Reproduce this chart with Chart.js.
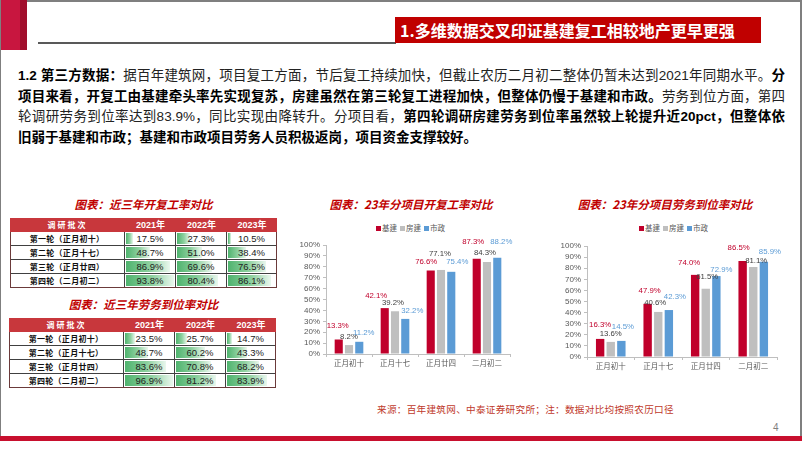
<!DOCTYPE html>
<html>
<head>
<meta charset="utf-8">
<script src="https://cdn.jsdelivr.net/npm/chart.js@4.4.0/dist/chart.umd.min.js"></script>
<style>
  body { margin: 0; background: #fff; }
  #page { position: relative; width: 802px; height: 451px; overflow: hidden; background: #fff;
          font-family: "Liberation Sans", "Noto Sans CJK SC", sans-serif; }
  .abs { position: absolute; }
  .para { left: 18px; top: 66px; width: 767px; font-size: 13.5px; line-height: 20.5px; color: #222; }
  .para div { text-align: justify; text-align-last: justify; white-space: nowrap; }
  .para div.last { text-align-last: left; }
  .para b { color: #000; }
  .ctitle { font-size: 11.5px; font-weight: bold; font-style: italic; color: #c00000; text-align: center;
            line-height: 16px; font-family: "Noto Sans CJK SC", sans-serif; }
  .legend { font-size: 7.5px; color: #595959; line-height: 10px; text-align: center; font-family: "Noto Sans CJK SC", sans-serif; }
  .legend span.sw { display: inline-block; width: 5px; height: 5px; margin: 0 1px 0 3px; vertical-align: 0; }
  .cell { position: absolute; box-sizing: border-box; overflow: hidden; }
  .hdr { background: #c8373c; color: #fff; font-weight: bold; text-align: center; }
  .lbl { font-family: "Noto Sans CJK SC", sans-serif; font-weight: bold; font-size: 8px; letter-spacing: 0.3px;
         text-align: center; color: #111; }
  .val { font-size: 9.5px; text-align: center; color: #222; }
  .bar { position: absolute; left: 1px; top: 1px; bottom: 1px;
         background: linear-gradient(to right, #4fb36e 0%, #8fd1a0 55%, #eaf7ee 100%); }
  .val span { position: relative; }
</style>
</head>
<body>
<div id="page">
  <!-- frame -->
  <div class="abs" style="left:0;top:0;width:802px;height:2px;background:#7f7f7f"></div>
  <div class="abs" style="left:0;top:0;width:1px;height:436px;background:#7f7f7f"></div>
  <div class="abs" style="left:800px;top:0;width:2px;height:436px;background:#7f7f7f"></div>
  <div class="abs" style="left:1px;top:0;width:26px;height:50px;background:linear-gradient(to right,#c8163f 0,#c8163f 72%,#a10e2c 74%,#a10e2c 100%)"></div>
  <div class="abs" style="left:38px;top:42px;width:358px;height:2px;background:#595959"></div>
  <div class="abs" style="left:395px;top:17px;width:366px;height:26px;background:#c00000;color:#fff;font-weight:bold;font-size:16px;line-height:26px;padding-left:5px;box-sizing:border-box;font-family:'Noto Sans CJK SC',sans-serif">1.多维数据交叉印证基建复工相较地产更早更强</div>

  <!-- paragraph -->
  <div class="abs para">
    <div><b>1.2 第三方数据：</b>据百年建筑网，项目复工方面，节后复工持续加快，但截止农历二月初二整体仍暂未达到2021年同期水平。<b>分</b></div>
    <div><b>项目来看，开复工由基建牵头率先实现复苏，房建虽然在第三轮复工进程加快，但整体仍慢于基建和市政。</b>劳务到位方面，第四</div>
    <div>轮调研劳务到位率达到83.9%，同比实现由降转升。分项目看，<b>第四轮调研房建劳务到位率虽然较上轮提升近20pct，但整体依</b></div>
    <div class="last"><b>旧弱于基建和市政；基建和市政项目劳务人员积极返岗，项目资金支撑较好。</b></div>
  </div>

  <!-- table titles -->
  <div class="abs ctitle" style="left:10px;top:196px;width:267px">图表：近三年开复工率对比</div>
  <div class="abs ctitle" style="left:10px;top:296px;width:267px">图表：近三年劳务到位率对比</div>
  <div id="table1" class="abs" style="left:10px;top:218px"></div>
  <div id="table2" class="abs" style="left:9px;top:318px"></div>

  <!-- chart titles and legends -->
  <div class="abs ctitle" style="left:311px;top:196px;width:200px">图表：23年分项目开复工率对比</div>
  <div class="abs ctitle" style="left:565px;top:196px;width:200px">图表：23年分项目劳务到位率对比</div>
  <div id="legend1" class="abs legend" style="left:359px;top:223px;width:100px"></div>
  <div id="legend2" class="abs legend" style="left:622px;top:223px;width:100px"></div>

  <div class="abs" style="left:294px;top:235px"><canvas id="chart1" width="224" height="135"></canvas></div>
  <div class="abs" style="left:555px;top:236px"><canvas id="chart2" width="230" height="137"></canvas></div>

  <div class="abs" style="left:377px;top:402px;font-size:9.6px;letter-spacing:0.3px;color:#c0392b;font-family:'Noto Sans CJK SC',sans-serif;line-height:14px">来源：百年建筑网、中泰证券研究所；注：数据对比均按照农历口径</div>
  <div class="abs" style="left:773px;top:422px;font-size:10px;color:#7f7f7f">4</div>
  <div class="abs" style="left:0;top:436px;width:802px;height:5px;background:#c8102e"></div>
</div>

<script>
// table data
const tableRounds = ['第一轮（正月初十）', '第二轮（正月十七）', '第三轮（正月廿四）', '第四轮（二月初二）'];
const tableYears = ['2021年', '2022年', '2023年'];
const restart2021 = [17.5, 48.7, 86.9, 93.8];
const restart2022 = [27.3, 51.0, 69.6, 80.4];
const restart2023 = [10.5, 38.4, 76.5, 86.1];
const labor2021 = [23.5, 48.7, 83.6, 96.9];
const labor2022 = [25.7, 60.2, 70.8, 81.2];
const labor2023 = [14.7, 43.3, 68.2, 83.9];

// chart data
const chartDays = ['正月初十', '正月十七', '正月廿四', '二月初二'];
const seriesNames = ['基建', '房建', '市政'];
const restart23Infra = [13.3, 42.1, 76.6, 87.3];
const restart23Housing = [8.2, 39.2, 77.1, 84.3];
const restart23Municipal = [11.2, 32.2, 75.4, 88.2];
const labor23Infra = [16.3, 47.9, 74.0, 86.5];
const labor23Housing = [13.6, 40.6, 61.5, 81.1];
const labor23Municipal = [14.5, 42.3, 72.9, 85.9];

const seriesColors = ['#c0002b', '#bfbfbf', '#5b9bd5'];
const labelColors = ['#c0002b', '#404040', '#5b9bd5'];

// label nudges (dx, dy from the bar top), per series and per category, like the hand-placed excel labels
const nudge1 = [
    [[-1, -13.5], [-8.5, -12], [-4.5, -8.5], [-3.5, -16.5]],
    [[0, -8], [-2, -8.5], [-1, -16.5], [-2, -9]],
    [[4.5, -9], [7, -8], [6, -10], [4, -16.5]]
];
const nudge2 = [
    [[0, -14], [2, -13], [-6, -12], [-4, -13]],
    [[0, -8], [-3, -9], [1.5, -11.5], [3, -6.5]],
    [[1.5, -14], [6, -13], [5, -6.5], [6, -10]]
];

// build a table with data bars
function buildTable(id, columns) {
    const host = document.getElementById(id);
    const colW = [115, 51, 51, 50];
    const rowH = 14;
    const max = Math.max(...columns.flat());
    const totalW = colW.reduce((a, b) => a + b, 0);
    const totalH = rowH * (tableRounds.length + 1);
    host.style.width = totalW + 'px';
    host.style.height = totalH + 'px';

    const add = (x, y, w, h, cls, html, style) => {
        const d = document.createElement('div');
        d.className = 'cell ' + cls;
        d.style.left = x + 'px';
        d.style.top = y + 'px';
        d.style.width = w + 'px';
        d.style.height = h + 'px';
        d.style.lineHeight = h + 'px';
        if (style) d.style.cssText += style;
        d.innerHTML = html;
        host.appendChild(d);
        return d;
    };

    add(0, 0, totalW, rowH, 'hdr', '', '');
    add(0, 0, colW[0], rowH, 'hdr', '调研批次', 'font-size:8px;letter-spacing:2px;font-family:"Noto Sans CJK SC",sans-serif;background:transparent');
    let x = colW[0];
    tableYears.forEach((y, i) => {
        add(x, 0, colW[i + 1], rowH, 'hdr', y, 'font-size:9px;background:transparent');
        x += colW[i + 1];
    });

    tableRounds.forEach((r, ri) => {
        const top = rowH * (ri + 1);
        add(0, top, colW[0], rowH, 'lbl', r, 'border-right:1px solid #404040;border-bottom:1px solid #404040');
        let cx = colW[0];
        columns.forEach((col, ci) => {
            const v = col[ri];
            const c = add(cx, top, colW[ci + 1], rowH, 'val', '', 'border-right:1px solid #404040;border-bottom:1px solid #404040');
            const bar = document.createElement('div');
            bar.className = 'bar';
            bar.style.width = 'calc(' + (v / max * 100).toFixed(1) + '% - 2px)';
            c.appendChild(bar);
            const t = document.createElement('span');
            t.textContent = v.toFixed(1) + '%';
            c.appendChild(t);
            cx += colW[ci + 1];
        });
    });
    // outer border
    add(0, rowH, totalW, totalH - rowH, '', '', 'border:1px solid #6b3a3a;border-top:none;pointer-events:none');
}

buildTable('table1', [restart2021, restart2022, restart2023]);
buildTable('table2', [labor2021, labor2022, labor2023]);

function buildLegend(id) {
    document.getElementById(id).innerHTML = seriesNames.map((n, i) =>
        `<span class="sw" style="background:${seriesColors[i]}"></span>${n}`).join('');
}
buildLegend('legend1');
buildLegend('legend2');

// value labels above bars
const labelPlugin = {
    id: 'valueLabels',
    afterDatasetsDraw(chart, args, opts) {
        const ctx = chart.ctx;
        const nudge = opts.nudge;
        ctx.save();
        ctx.font = '7.8px "Liberation Sans", Arial, sans-serif';
        ctx.textAlign = 'center';
        ctx.textBaseline = 'middle';
        chart.data.datasets.forEach((ds, di) => {
            const meta = chart.getDatasetMeta(di);
            meta.data.forEach((el, i) => {
                const [dx, dy] = nudge[di][i];
                ctx.fillStyle = labelColors[di];
                ctx.fillText(ds.data[i].toFixed(1) + '%', el.x + dx, el.y + dy);
            });
        });
        ctx.restore();
    }
};

function makeChart(id, series, nudge) {
    return new Chart(document.getElementById(id), {
        type: 'bar',
        data: {
            labels: chartDays,
            datasets: series.map((d, i) => ({
                label: seriesNames[i],
                data: d,
                backgroundColor: seriesColors[i],
                categoryPercentage: 0.67,
                barPercentage: 0.79
            }))
        },
        options: {
            responsive: false,
            animation: false,
            layout: { padding: { top: 10, right: 8, left: 0, bottom: 0 } },
            plugins: { legend: { display: false }, tooltip: { enabled: false }, valueLabels: { nudge } },
            scales: {
                x: {
                    grid: { display: true, drawOnChartArea: false, offset: true, tickLength: 3, color: '#bfbfbf' },
                    border: { color: '#bfbfbf' },
                    ticks: { color: '#595959', font: { size: 7.5, family: '"Noto Sans CJK SC", sans-serif' }, padding: 2, maxRotation: 0 },
                    afterFit(s) { s.height = 16; }
                },
                y: {
                    min: 0,
                    max: 100,
                    grid: { display: true, drawOnChartArea: false, tickLength: 3, color: '#bfbfbf' },
                    border: { color: '#bfbfbf' },
                    ticks: { stepSize: 10, autoSkip: false, color: '#595959', font: { size: 8, family: '"Liberation Sans", Arial, sans-serif' }, padding: 3,
                             callback: v => v + '%' },
                    afterFit(s) { s.width = 32; }
                }
            }
        },
        plugins: [labelPlugin]
    });
}

makeChart('chart1', [restart23Infra, restart23Housing, restart23Municipal], nudge1);
makeChart('chart2', [labor23Infra, labor23Housing, labor23Municipal], nudge2);
</script>
</body>
</html>
